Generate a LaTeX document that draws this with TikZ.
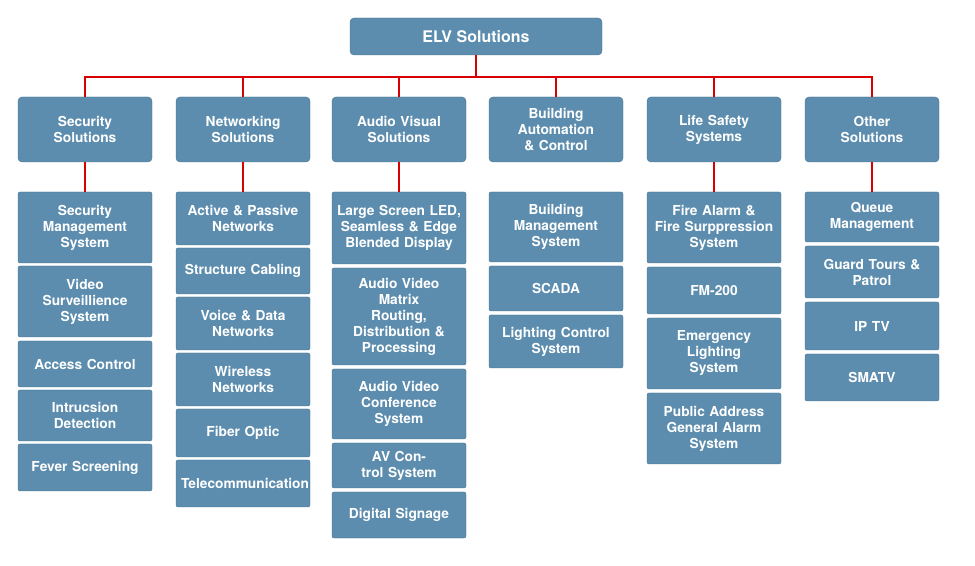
\documentclass[tikz,border=0pt]{standalone}
\usepackage{fontspec}
\setmainfont{TeX Gyre Heros}
\begin{document}
\begin{tikzpicture}[x=0.75pt,y=-0.75pt,
  box/.style={fill=boxc,draw=boxc!80!black,line width=0.3pt,text=white,font=\bfseries\fontsize{10.3}{12}\selectfont,align=center,inner sep=1pt,rounded corners=1.5pt},
  hd/.style={box,rounded corners=3pt},
  link/.style={draw=red!85!black,line width=2.2pt}]
\definecolor{boxc}{HTML}{5C8DAE}
\useasboundingbox (0,0) rectangle (975,566);
\newcommand\bx[7][box]{\node[#1,minimum width={(#5-#3)*0.75pt},minimum height={(#6-#4)*0.75pt},text width={(#5-#3-10)*0.75pt}] (#2) at ({(#3+#5)/2},{(#4+#6)/2}) {#7};}
\bx[hd]{top}{350}{18}{602}{55}{\fontsize{12}{14}\selectfont ELV Solutions}
\coordinate (bus) at (0,77);
% headers
\bx[hd]{h1}{18}{97}{152}{162}{Security\\Solutions}
\bx[hd]{h2}{176}{97}{310}{162}{Networking\\Solutions}
\bx[hd]{h3}{332}{97}{466}{162}{Audio Visual\\Solutions}
\bx[hd]{h4}{489}{97}{623}{162}{Building\\Automation\\\& Control}
\bx[hd]{h5}{647}{97}{781}{162}{Life Safety\\Systems}
\bx[hd]{h6}{805}{97}{939}{162}{Other\\Solutions}
% col1
\bx{a1}{18}{192}{152}{263}{Security\\Management\\System}
\bx{a2}{18}{266}{152}{337}{Video\\Surveillience\\System}
\bx{a3}{18}{341}{152}{387}{Access Control}
\bx{a4}{18}{390}{152}{441}{Intrucsion\\Detection}
\bx{a5}{18}{444}{152}{491}{Fever Screening}
% col2
\bx{b1}{176}{192}{310}{245}{Active \& Passive\\Networks}
\bx{b2}{176}{248}{310}{294}{Structure Cabling}
\bx{b3}{176}{297}{310}{350}{Voice \& Data\\Networks}
\bx{b4}{176}{353}{310}{406}{Wireless\\Networks}
\bx{b5}{176}{409}{310}{457}{Fiber Optic}
\bx{b6}{176}{460}{310}{507}{Telecommunication}
% col3
\bx{c1}{332}{192}{466}{264}{Large Screen LED,\\Seamless \& Edge\\Blended Display}
\bx{c2}{332}{268}{466}{365}{Audio Video Matrix\\Routing,\\Distribution \&\\Processing}
\bx{c3}{332}{369}{466}{439}{Audio Video\\Conference\\System}
\bx{c4}{332}{443}{466}{488}{AV Control System}
\bx{c5}{332}{492}{466}{538}{Digital Signage}
% col4
\bx{d1}{489}{192}{623}{262}{Building\\Management\\System}
\bx{d2}{489}{266}{623}{311}{SCADA}
\bx{d3}{489}{315}{623}{368}{Lighting Control\\System}
% col5
\bx{e1}{647}{192}{781}{263}{Fire Alarm \&\\Fire Surppression\\System}
\bx{e2}{647}{267}{781}{314}{FM-200}
\bx{e3}{647}{318}{781}{389}{Emergency\\Lighting\\System}
\bx{e4}{647}{393}{781}{464}{Public Address\\General Alarm\\System}
% col6
\bx{f1}{805}{192}{939}{242}{Queue\\Management}
\bx{f2}{805}{246}{939}{298}{Guard Tours \&\\Patrol}
\bx{f3}{805}{302}{939}{350}{IP TV}
\bx{f4}{805}{354}{939}{401}{SMATV}
% connectors
\draw[link] (top.south) -- (top.south|-bus);
\draw[link] (h1.north) -- (h1.north|-bus) -- (h6.north|-bus) -- (h6.north);
\foreach \h in {h2,h3,h4,h5} \draw[link] (\h.north|-bus) -- (\h.north);
\draw[link] (h1.south) -- (a1.north);
\draw[link] (h2.south) -- (b1.north);
\draw[link] (h3.south) -- (c1.north);
\draw[link] (h5.south) -- (e1.north);
\draw[link] (h6.south) -- (f1.north);
\end{tikzpicture}
\end{document}
